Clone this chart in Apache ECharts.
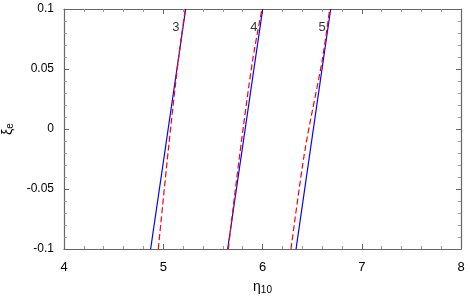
<!DOCTYPE html>
<html><head><meta charset="utf-8">
<script src="https://cdn.jsdelivr.net/npm/echarts@6/dist/echarts.min.js"></script>
<style>html,body{margin:0;padding:0;background:#fff}#c{width:470px;height:297px}</style>
</head><body><div id="c"></div>
<script>
// Data (eta10, xi_e)
const blue3 = [[4.873, -0.1], [5.226, 0.1]];
const red3 = [[4.950, -0.1], [5.051, -0.0175], [5.152, 0.0575], [5.222, 0.1]];
const blue4 = [[5.649, -0.1], [6.002, 0.1]];
const red4 = [[5.655, -0.1], [5.766, -0.0242], [5.901, 0.0575], [5.995, 0.1]];
const blue5 = [[6.338, -0.1], [6.687, 0.1]];
const red5 = [[6.287, -0.1], [6.428, -0.0175], [6.602, 0.0575], [6.677, 0.1]];
const curveLabels = [[5.128, 0.085, '3'], [5.914, 0.085, '4'], [6.600, 0.085, '5']];
const xMin = 4, xMax = 8, xStep = 1;
const yMin = -0.1, yMax = 0.1, yStep = 0.05;

const font = 'Liberation Sans, Arial, sans-serif';
const axisCol = '#666';
function xAx(pos, show) {
  return {
    type: 'value', position: pos, min: xMin, max: xMax, interval: xStep,
    axisLine: {show: true, onZero: false, lineStyle: {color: axisCol, width: 1.2}},
    axisTick: {show: true, inside: true, length: 5, lineStyle: {color: axisCol}},
    minorTick: {show: true, splitNumber: 5, length: 3, lineStyle: {color: '#999'}},
    splitLine: {show: false},
    axisLabel: {show: show, color: '#000', fontSize: 13, fontFamily: font, margin: 12},
    name: show ? '{a|η}{s|10}' : '', nameLocation: 'middle', nameGap: 30,
    nameTextStyle: {rich: {a: {fontSize: 14, fontFamily: font, color: '#000'}, s: {fontSize: 10, fontFamily: font, color: '#000', verticalAlign: 'bottom', padding: [6, 0, 0, 0]}}}
  };
}
function yAx(pos, show) {
  return {
    type: 'value', position: pos, min: yMin, max: yMax, interval: yStep,
    axisLine: {show: true, onZero: false, lineStyle: {color: axisCol, width: 1.2}},
    axisTick: {show: true, inside: true, length: 5, lineStyle: {color: axisCol}},
    minorTick: {show: true, splitNumber: 5, length: 3, lineStyle: {color: '#999'}},
    splitLine: {show: false},
    axisLabel: {show: show, color: '#000', fontSize: 12, fontFamily: font, margin: 10,
      formatter: v => (Math.abs(v) < 1e-9 ? '0' : String(+v.toFixed(2)))},
    name: show ? '{a|ξ}{s|e}' : '', nameLocation: 'middle', nameGap: 46, nameRotate: 90,
    nameTextStyle: {rich: {a: {fontSize: 14, fontFamily: font, color: '#000'}, s: {fontSize: 10, fontFamily: font, color: '#000', padding: [6, 0, 0, 0]}}}
  };
}
function line(data, color, dashed) {
  return {type: 'line', data: data, xAxisIndex: 0, yAxisIndex: 0, symbol: 'none', smooth: dashed ? 0.3 : false,
    lineStyle: {color: color, width: 1.2, type: dashed ? [6, 3] : 'solid'}, z: dashed ? 3 : 2, silent: true};
}
const chart = echarts.init(document.getElementById('c'), null, {renderer: 'canvas'});
chart.setOption({
  animation: false,
  grid: {left: 64, right: 9, top: 9, bottom: 48, containLabel: false, outerBoundsMode: 'none'},
  xAxis: [xAx('bottom', true), xAx('top', false)],
  yAxis: [yAx('left', true), yAx('right', false)],
  series: [
    line(blue3, '#0000ff', false), line(red3, '#ff0000', true),
    line(blue4, '#0000ff', false), line(red4, '#ff0000', true),
    line(blue5, '#0000ff', false), line(red5, '#ff0000', true),
    {type: 'scatter', data: curveLabels, symbolSize: 0, silent: true, z: 5,
      label: {show: true, position: 'inside', formatter: p => p.data[2], color: '#000', fontSize: 13, fontFamily: font}}
  ]
});
</script></body></html>
